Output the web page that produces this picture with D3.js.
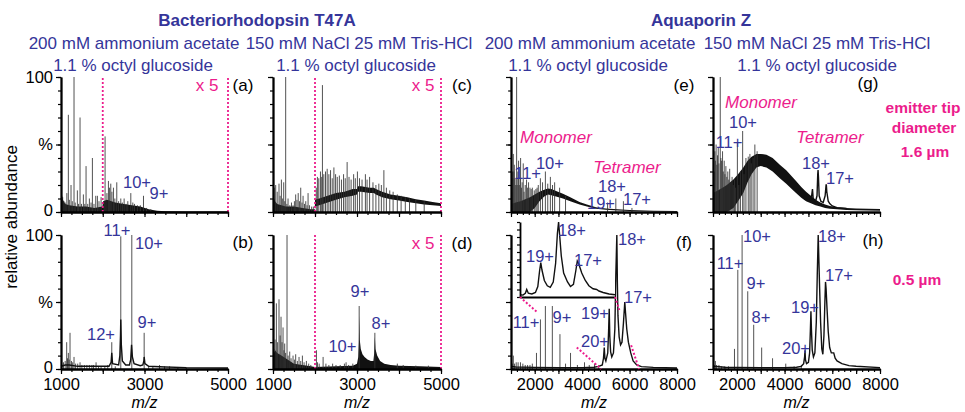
<!DOCTYPE html>
<html>
<head>
<meta charset="utf-8">
<script src="https://cdn.jsdelivr.net/npm/d3@7"></script>
<style>
  body { margin: 0; background: #fff; }
  svg { display: block; font-family: 'Liberation Sans', Arial, sans-serif; }
</style>
</head>
<body>
<div id="plot"></div>
<script>
'use strict';

// ---- data: m/z vs relative abundance (%) ----
const domBR = [1000, 5000]
const domAQ = [1000, 8000]
const xLabelsBR = [1000, 3000, 5000]
const xLabelsAQ = [2000, 4000, 6000, 8000]
const yLabels = [[0, '0'], [50, '%'], [100, '100']]
const zoomRange = [2000, 5000]   // "x 5" region

// (a) BR, ammonium acetate, 1.6 um
const sticksA = [[1020,12],[1040,11],[1070,8],[1100,7],[1140,14],[1176,72],[1200,9],[1240,20],[1270,8],[1312,100],[1340,7],
  [1392,16],[1420,6],[1456,70],[1490,6],[1536,13],[1570,6],[1600,34],[1640,6],[1680,10],[1720,7],[1752,40],[1790,6],
  [1832,12],[1872,12],[1910,8],[1960,11],[2030,8],[2056,56],[2100,14],[2136,23],[2160,18],[2192,21],[2220,15],[2256,18],
  [2290,10],[2336,22],[2380,8],[2432,10],[2470,7],[2512,10],[2560,6],[2600,8],[2672,14],[2720,7],[2760,6],[2830,5],
  [2900,5],[2976,12],[3050,3],[3150,2]]
const bandA = [[1000,0,12],[1030,0,10],[1100,0,6],[1200,0,5],[1400,0,4],[1600,0,4],[1800,0,3],[1990,0,4],[2010,0,8],
  [2100,0,9],[2300,0,7],[2500,0,6],[2700,0,5],[2900,0,4],[3100,0,2],[3300,0,1],[3500,0,0.6],[4000,0,0.4],[5000,0,0.3]]
const labelsA = [['10+',2820,22],['9+',3347,14]]

// (b) BR, ammonium acetate, 0.5 um
const sticksB = [[1020,4],[1060,5],[1100,6],[1136,20],[1156,8],[1176,12],[1196,7],[1216,27],[1250,6],[1280,5],[1312,9],
  [1350,4],[1400,4],[1456,5],[1500,3],[1560,3],[1620,3],[1680,3],[1740,3],[1780,3],[1840,5],[1900,2],[1960,2],[2050,2],
  [2120,3],[2216,20],[2300,2],[2432,99],[2696,100],[2992,27],[3100,2],[3200,2],[3360,3],[3480,2],[3600,2],[3800,1.5],[4000,1]]
const lineB = [[1000,2],[1100,3],[1200,3],[1400,2],[1800,2],[2150,2],[2200,5],[2216,12],[2235,4],[2380,3],[2410,10],
  [2425,25],[2432,37],[2445,18],[2470,6],[2550,3],[2640,3],[2670,7],[2690,18],[2710,9],[2750,4],[2900,2.5],[2960,3],
  [2985,6],[2992,9],[3010,4],[3100,2],[3500,1.5],[4000,1],[5000,0.7]]
const labelsB = [['12+',1958,26],['11+',2341,104],['10+',3108,94],['9+',3060,35]]

// (c) BR, NaCl / Tris-HCl, 1.6 um
const sticksC = [[1030,18],[1064,20],[1100,15],[1143,21],[1170,12],[1200,24],[1230,10],[1255,22],[1280,8],[1302,100],
  [1330,6],[1358,10],[1400,5],[1440,7],[1477,5],[1510,8],[1540,13],[1570,9],[1600,14],[1630,8],[1660,18],[1690,7],
  [1716,12],[1750,6],[1780,8],[1810,5],[1835,14],[1870,5],[1920,4],[1960,4],
  [2030,18],[2057,26],[2090,25],[2130,30],[2160,26],[2177,94],[2210,28],[2250,30],[2290,32],[2330,28],[2370,31],
  [2410,25],[2450,33],[2490,28],[2530,26],[2580,27],[2630,24],[2680,28],[2720,25],[2765,37],[2810,26],[2860,24],
  [2920,28],[2960,25],[3010,30],[3060,25],[3120,24],[3200,28],[3240,24],[3300,26],[3380,22],[3450,20],[3520,21],
  [3580,20],[3640,31],[3700,18],[3780,16],[3860,15],[3960,13],[4050,12],[4150,11],[4250,10],[4400,9],[4600,8]]
const bandC = [[1000,0,12],[1050,0,8],[1100,0,6],[1300,0,4],[1500,0,4],[1700,0,3],[1900,0,2],[1995,0,2],
  [2000,4,9],[2100,5,10],[2300,7,12],[2500,9,14],[2700,11,15],[2900,12,17],[3000,13,17],[3020,15,19],[3100,15,19],
  [3300,14,18],[3400,14,18],[3450,13,17],[3600,11,15],[3800,9.5,13],[4000,8.5,12],[4200,7.5,11],[4400,6.5,9.5],
  [4600,5.5,8.5],[4800,5,7.5],[5000,4.5,6.5]]

// (d) BR, NaCl / Tris-HCl, 0.5 um
const sticksD = [[1020,15],[1050,22],[1080,49],[1110,20],[1143,52],[1170,25],[1191,39],[1215,20],[1239,31],[1260,14],
  [1278,19],[1300,12],[1334,100],[1360,10],[1398,13],[1430,8],[1477,10],[1510,7],[1540,11],[1580,6],[1620,9],[1660,6],
  [1700,10],[1740,5],[1795,6],[1850,4],[1900,3],[2034,14],[2060,5],[2100,4],[2193,9],[2260,4],[2330,3],[2420,4],
  [2500,3],[2600,3],[2700,4],[2740,5],[2800,3],[2900,4],[3052,47],[3425,27],[3960,4],[4100,3],[4400,2.5],[4700,2.5]]
const bandD = [[1000,0,10],[1050,0,14],[1100,0,12],[1200,0,10],[1300,0,8],[1400,0,6],[1500,0,4],[1700,0,3],[1900,0,2],
  [2000,0,1.5],[2500,0,2],[2900,0,2.5],[3000,0,4],[3030,0,9],[3045,0,20],[3052,0,40],[3065,0,22],[3090,0,15],
  [3130,0,11],[3180,0,9],[3250,0,7],[3330,0,6],[3390,0,6],[3410,0,12],[3425,0,24],[3440,0,15],[3480,0,10],
  [3550,0,6],[3650,0,4],[3800,0,3],[4000,0,2.5],[4500,0,2],[5000,0,1.5]]
const labelsD = [['10+',2652,17],['9+',3071,58],['8+',3571,34]]

// (e) AqpZ, ammonium acetate, 1.6 um
const sticksE = [[1020,20],[1040,15],[1060,30],[1080,25],[1098,43],[1120,30],[1140,35],[1170,25],[1200,20],[1237,100],
  [1260,20],[1290,30],[1320,38],[1350,20],[1380,25],[1405,40],[1440,18],[1470,22],[1516,36],[1550,15],[1600,20],
  [1656,24],[1700,18],[1740,22],[1800,18],[1850,17],[1900,18],[1980,16],[2050,17],[2100,18],[2150,20],[2240,25],
  [2330,22],[2450,30],[2550,21],[2660,26],[2750,20],[2840,22],[3050,18],[3300,12],[5073,7],[5420,10],[5740,8],[6100,3]]
const bandE = [[1000,0,6],[1200,0,7],[1400,0,8],[1600,0,9.5],[1800,0,11],[2000,3,13],[2200,8,15],[2400,11.5,16.5],
  [2560,13,17.5],[2700,12.5,17],[2900,11.5,15.5],[3190,10,13.5],[3500,8,11],[3890,5.5,7.5],[4200,4,5.5],[4580,2.5,3.6],
  [5000,1.6,2.6],[5500,1.1,2],[6000,0.7,1.5],[7000,0.3,1],[8000,0.2,0.8]]
const labelsE = [['11+',1700,29],['10+',2640,36],['18+',5259,19],['19+',4795,7],['17+',6313,10]]
const speciesE = [['Monomer',2898,55],['Tetramer',5892,33]]

// (f) AqpZ, ammonium acetate, 0.5 um
const sticksF = [[1050,4],[1098,10],[1150,4],[1220,5],[1300,5],[1400,5],[1500,4],[1600,3],[1700,3],[1800,3],[1900,4],
  [2074,12],[2241,37],[2450,47],[2743,47],[3064,26],[3300,4],[3510,12],[3800,3],[4100,5],[4300,3],[4520,4],[4700,3]]
const lineF = [[1000,2],[1200,1.5],[2000,1.2],[3000,1],[4000,1],[4500,1.3],[4700,2],[4850,3],[4900,8],[4933,16],
  [4960,8],[5000,6],[5080,12],[5115,28],[5142,45],[5165,25],[5200,13],[5250,9],[5320,12],[5380,30],[5420,70],
  [5463,100],[5485,65],[5510,40],[5560,24],[5620,18],[5680,20],[5740,34],[5798,50],[5830,42],[5880,30],[5950,20],
  [6050,12],[6150,6],[6300,3],[6500,1.8],[7000,1.2],[8000,0.8]]
const labelsF = [['11+',1633,35],['9+',3151,39],['19+',4542,42],['20+',4542,21],['18+',6102,97],['17+',6355,54]]
const insetDom = [4800, 6400]
const insetF = [[4800,3],[4850,2.5],[4890,5],[4913,10],[4940,5],[5000,4],[5060,6],[5100,14],[5130,35],[5150,46],
  [5170,36],[5210,22],[5260,15],[5310,13],[5360,20],[5400,45],[5430,85],[5450,100],[5470,80],[5495,55],[5535,32],
  [5600,20],[5650,14],[5700,17],[5740,35],[5765,48],[5790,44],[5840,32],[5900,22],[5960,15],[6030,11],[6091,10],
  [6130,8],[6200,6],[6300,4],[6400,3]]
const labelsInset = [['19+',5137,55],['18+',5676,89],['17+',5945,49]]

// (g) AqpZ, NaCl / Tris-HCl, 1.6 um
const sticksG = [[1020,40],[1050,30],[1080,45],[1100,38],[1130,50],[1160,35],[1190,42],[1220,48],[1250,36],[1304,100],
  [1330,40],[1360,38],[1400,45],[1430,30],[1470,38],[1500,28],[1540,34],[1580,26],[1620,30],[1660,24],[1700,32],
  [1750,22],[1800,26],[1850,20],[1900,24],[1950,18],[2022,51],[2080,20],[2150,30],[2243,60],[2300,28],[2380,40],
  [2478,41],[2547,43],[2600,36],[2680,40],[2754,50],[2850,45]]
const bandG = [[1000,0,14],[1200,0,16],[1400,0,18],[1580,0,20],[1856,3,24],[2050,8,28],[2270,14,33],[2450,22,38],
  [2616,28,41],[2820,33,43],[3000,34,43],[3240,33,42.5],[3500,30,40],[3800,25,35],[4070,21,31],[4300,17,26.5],
  [4480,14,23],[4700,10.5,18.5],[4900,8,15],[5100,6.5,12],[5300,5,9],[5500,4,7],[5700,3,5.5],[5900,2.5,4.5],
  [6200,2,3.5],[6600,1.5,3],[7000,1.3,2.6],[8000,1,2.3]]
const lineG = [[5050,9],[5120,10],[5170,17],[5200,10],[5300,8],[5360,12],[5390,28],[5404,31],[5420,26],[5450,12],
  [5520,8],[5620,7],[5700,12],[5740,20],[5751,20],[5770,15],[5830,8],[5900,6],[6000,4.5],[6200,3.2],[6600,2.6]]
const labelsG = [['10+',2257,67],['11+',1671,52],['18+',5317,36],['17+',6323,25]]
const speciesG = [['Monomer',3012,81],['Tetramer',5904,55]]

// (h) AqpZ, NaCl / Tris-HCl, 0.5 um
const sticksH = [[1050,3],[1100,6],[1150,3],[1250,3],[1350,2],[1500,2],[1650,2],[1900,15],[2040,74],[2220,100],
  [2456,58],[2706,33],[3040,16],[3496,8],[4050,4],[4400,2],[4700,3]]
const lineH = [[1000,2],[1500,1.3],[2000,1.2],[3000,1],[4000,1],[4500,1.3],[4700,2],[4800,4],[4840,9],[4856,14],
  [4875,7],[4920,4],[5000,5],[5050,12],[5080,28],[5105,43],[5125,30],[5160,14],[5210,9],[5270,12],[5330,35],
  [5370,70],[5410,100],[5440,80],[5470,60],[5510,35],[5560,15],[5605,11],[5650,25],[5690,50],[5716,65],[5740,60],
  [5780,45],[5830,28],[5890,16],[5960,12],[6060,12],[6120,8],[6200,6],[6400,4],[6700,2.5],[7000,2],[8000,1]]
const labelsH = [['10+',2844,99],['11+',1713,79],['9+',2802,64],['8+',3012,39],['20+',4479,16],['19+',4856,46],
  ['18+',5988,99],['17+',6281,70]]

// ---- layout ----
const blue = '#35359a'
const pink = '#ec1c8c'
const cols = [[61, 228], [273, 441], [511, 677], [713, 880]]
const rows = [[77, 212], [235, 369]]

const panels = [
  {tag: '(a)', c: 0, r: 0, dom: domBR, sticks: sticksA, band: bandA, labels: labelsA, x5: [207, 85], tagAt: [243, 85]},
  {tag: '(b)', c: 0, r: 1, dom: domBR, sticks: sticksB, line: lineB, labels: labelsB, tagAt: [243, 242]},
  {tag: '(c)', c: 1, r: 0, dom: domBR, sticks: sticksC, band: bandC, labels: [], x5: [423, 85], tagAt: [462, 85]},
  {tag: '(d)', c: 1, r: 1, dom: domBR, sticks: sticksD, band: bandD, labels: labelsD, x5: [423, 243], tagAt: [462, 243]},
  {tag: '(e)', c: 2, r: 0, dom: domAQ, sticks: sticksE, band: bandE, labels: labelsE, species: speciesE, tagAt: [684, 85]},
  {tag: '(f)', c: 2, r: 1, dom: domAQ, sticks: sticksF, line: lineF, labels: labelsF, tagAt: [684, 242]},
  {tag: '(g)', c: 3, r: 0, dom: domAQ, sticks: sticksG, band: bandG, line: lineG, labels: labelsG, species: speciesG, tagAt: [868, 83]},
  {tag: '(h)', c: 3, r: 1, dom: domAQ, sticks: sticksH, line: lineH, labels: labelsH, tagAt: [873, 240]}
]

const svg = d3.select('#plot').append('svg')
  .attr('width', 965)
  .attr('height', 412)

function styleAxis(sel) {
  sel.select('.domain').attr('stroke', '#000').attr('stroke-width', 1.8)
  sel.selectAll('.tick line').attr('stroke', '#000').attr('stroke-width', 1.2)
  sel.selectAll('.tick text').attr('fill', '#000').attr('font-size', '16.5px')
    .attr('font-family', "'Liberation Sans', Arial, sans-serif")
}

function drawPanel(p) {
  let [left, right] = cols[p.c]
  let [top, bottom] = rows[p.r]
  let x = d3.scaleLinear().domain(p.dom).range([left, right])
  let y = d3.scaleLinear().domain([0, 100]).range([bottom, top])
  let g = svg.append('g')

  if (p.band) {
    let area = d3.area().x(d => x(d[0])).y0(d => y(d[1])).y1(d => y(d[2]))
    g.append('path').attr('d', area(p.band)).attr('fill', '#111')
  }
  g.append('g').selectAll('line')
    .data(p.sticks)
    .enter()
    .append('line')
    .attr('x1', d => x(d[0]))
    .attr('x2', d => x(d[0]))
    .attr('y1', y(0))
    .attr('y2', d => y(d[1]))
    .attr('stroke', '#333')
    .attr('stroke-width', 0.85)
  if (p.line) {
    let line = d3.line().x(d => x(d[0])).y(d => y(d[1]))
    g.append('path').attr('d', line(p.line))
      .attr('fill', 'none').attr('stroke', '#111').attr('stroke-width', 1.4)
  }

  if (p.x5) {
    g.selectAll('line.x5')
      .data(zoomRange)
      .enter()
      .append('line')
      .attr('x1', d => x(d)).attr('x2', d => x(d))
      .attr('y1', y(0)).attr('y2', y(100))
      .attr('stroke', pink).attr('stroke-width', 1.8)
      .attr('stroke-dasharray', '2,2')
    g.append('text').attr('x', p.x5[0]).attr('y', p.x5[1])
      .attr('fill', pink).attr('font-size', '17px')
      .attr('text-anchor', 'middle').attr('dominant-baseline', 'central')
      .text('x 5')
  }

  // x axis: minor every 250, major every 1000
  let step = 250
  let minor = d3.range(p.dom[0], p.dom[1] + 1, step)
  let major = d3.range(p.dom[0], p.dom[1] + 1, step * 4)
  let labelled = p.dom == domBR ? xLabelsBR : xLabelsAQ
  let xa = g.append('g').attr('transform', `translate(0, ${bottom})`)
    .call(d3.axisBottom(x).tickValues(minor).tickSize(3).tickSizeOuter(0).tickFormat(''))
  styleAxis(xa)
  let xb = g.append('g').attr('transform', `translate(0, ${bottom})`)
    .call(d3.axisBottom(x).tickValues(major).tickSize(5).tickSizeOuter(0).tickPadding(4)
      .tickFormat(d => (p.r == 1 && labelled.includes(d)) ? d : ''))
  styleAxis(xb)

  // y axis
  let ya = g.append('g').attr('transform', `translate(${left}, 0)`)
    .call(d3.axisLeft(y).tickValues(d3.range(0, 101, 10)).tickSize(3).tickSizeOuter(0).tickFormat(''))
  styleAxis(ya)
  let yb = g.append('g').attr('transform', `translate(${left}, 0)`)
    .call(d3.axisLeft(y).tickValues(yLabels.map(d => d[0])).tickSize(5).tickSizeOuter(0)
      .tickFormat(d => p.c == 0 ? yLabels.find(e => e[0] == d)[1] : ''))
  styleAxis(yb)
  yb.selectAll('.tick text').attr('dy', d => d == 0 ? '0.2em' : '0.32em')

  if (p.r == 1) {
    g.append('text')
      .attr('x', (left + right) / 2).attr('y', 408)
      .attr('text-anchor', 'middle').attr('font-size', '16px').attr('font-style', 'italic')
      .text('m/z')
  }

  g.append('g').selectAll('text')
    .data(p.labels)
    .enter()
    .append('text')
    .attr('x', d => x(d[1]))
    .attr('y', d => y(d[2]))
    .attr('fill', blue)
    .attr('font-size', '16.5px')
    .attr('text-anchor', 'middle')
    .attr('dominant-baseline', 'central')
    .text(d => d[0])
  if (p.species) {
    g.append('g').selectAll('text')
      .data(p.species)
      .enter()
      .append('text')
      .attr('x', d => x(d[1]))
      .attr('y', d => y(d[2]))
      .attr('fill', pink)
      .attr('font-size', '17px')
      .attr('font-style', 'italic')
      .attr('text-anchor', 'middle')
      .attr('dominant-baseline', 'central')
      .text(d => d[0])
  }

  g.append('text').attr('x', p.tagAt[0]).attr('y', p.tagAt[1])
    .attr('font-size', '17px').attr('text-anchor', 'middle').attr('dominant-baseline', 'central')
    .text(p.tag)

  return {x: x, y: y}
}

let scales = panels.map(drawPanel)

// inset in panel (f)
function drawInset(main) {
  let x = d3.scaleLinear().domain(insetDom).range([520, 615])
  let y = d3.scaleLinear().domain([0, 100]).range([297, 222])
  let g = svg.append('g')
  g.append('rect').attr('x', 520).attr('y', 222).attr('width', 95).attr('height', 75).attr('fill', '#fff')
  let line = d3.line().x(d => x(d[0])).y(d => y(d[1]))
  g.append('path').attr('d', line(insetF)).attr('fill', 'none').attr('stroke', '#111').attr('stroke-width', 1.4)
  let ya = g.append('g').attr('transform', 'translate(520, 0)')
    .call(d3.axisLeft(y).tickValues(d3.range(0, 101, 10)).tickSize(3).tickSizeOuter(0).tickFormat(''))
  styleAxis(ya)
  let xa = g.append('g').attr('transform', 'translate(0, 297)')
    .call(d3.axisBottom(x).tickValues([]).tickSizeOuter(0))
  styleAxis(xa)
  g.append('g').selectAll('text')
    .data(labelsInset)
    .enter()
    .append('text')
    .attr('x', d => x(d[1]))
    .attr('y', d => y(d[2]))
    .attr('fill', blue)
    .attr('font-size', '16.5px')
    .attr('text-anchor', 'middle')
    .attr('dominant-baseline', 'central')
    .text(d => d[0])

  // magnification guides, drawn only where visible in the figure
  let guides = [
    {from: [x(insetDom[0]), y(0)], to: [main.x(insetDom[0]), main.y(0)], parts: [[0, 0.22], [0.7, 1]]},
    {from: [x(insetDom[1]), y(0)], to: [main.x(insetDom[1]), main.y(0)], parts: [[0, 0.18], [0.67, 1]]}
  ]
  guides.forEach(function(gd) {
    gd.parts.forEach(function(t) {
      let p0 = [gd.from[0] + (gd.to[0] - gd.from[0]) * t[0], gd.from[1] + (gd.to[1] - gd.from[1]) * t[0]]
      let p1 = [gd.from[0] + (gd.to[0] - gd.from[0]) * t[1], gd.from[1] + (gd.to[1] - gd.from[1]) * t[1]]
      g.append('line')
        .attr('x1', p0[0]).attr('y1', p0[1]).attr('x2', p1[0]).attr('y2', p1[1])
        .attr('stroke', pink).attr('stroke-width', 2).attr('stroke-dasharray', '2,2')
    })
  })
}
drawInset(scales[5])

// titles and side notes
const titles = [
  ['Bacteriorhodopsin T47A', 257, 20, true],
  ['Aquaporin Z', 701, 20, true],
  ['200 mM ammonium acetate', 134, 43, false],
  ['150 mM NaCl 25 mM Tris-HCl', 359, 43, false],
  ['1.1 % octyl glucoside', 133, 65, false],
  ['1.1 % octyl glucoside', 356, 65, false],
  ['200 mM ammonium acetate', 590, 43, false],
  ['150 mM NaCl 25 mM Tris-HCl', 817, 43, false],
  ['1.1 % octyl glucoside', 588, 65, false],
  ['1.1 % octyl glucoside', 817, 65, false]
]
svg.append('g').selectAll('text')
  .data(titles)
  .enter()
  .append('text')
  .attr('x', d => d[1])
  .attr('y', d => d[2])
  .attr('fill', blue)
  .attr('font-size', '17px')
  .attr('font-weight', d => d[3] ? 'bold' : 'normal')
  .attr('text-anchor', 'middle')
  .attr('dominant-baseline', 'central')
  .text(d => d[0])

const notes = [['emitter tip', 923, 107], ['diameter', 924, 127], ['1.6 µm', 925, 151], ['0.5 µm', 917, 279]]
svg.append('g').selectAll('text')
  .data(notes)
  .enter()
  .append('text')
  .attr('x', d => d[1])
  .attr('y', d => d[2])
  .attr('fill', pink)
  .attr('font-size', '15.5px')
  .attr('font-weight', 'bold')
  .attr('text-anchor', 'middle')
  .attr('dominant-baseline', 'central')
  .text(d => d[0])

svg.append('text')
  .attr('transform', 'translate(11, 217) rotate(-90)')
  .attr('font-size', '17px')
  .attr('text-anchor', 'middle')
  .attr('dominant-baseline', 'central')
  .text('relative abundance')
</script>
</body>
</html>
